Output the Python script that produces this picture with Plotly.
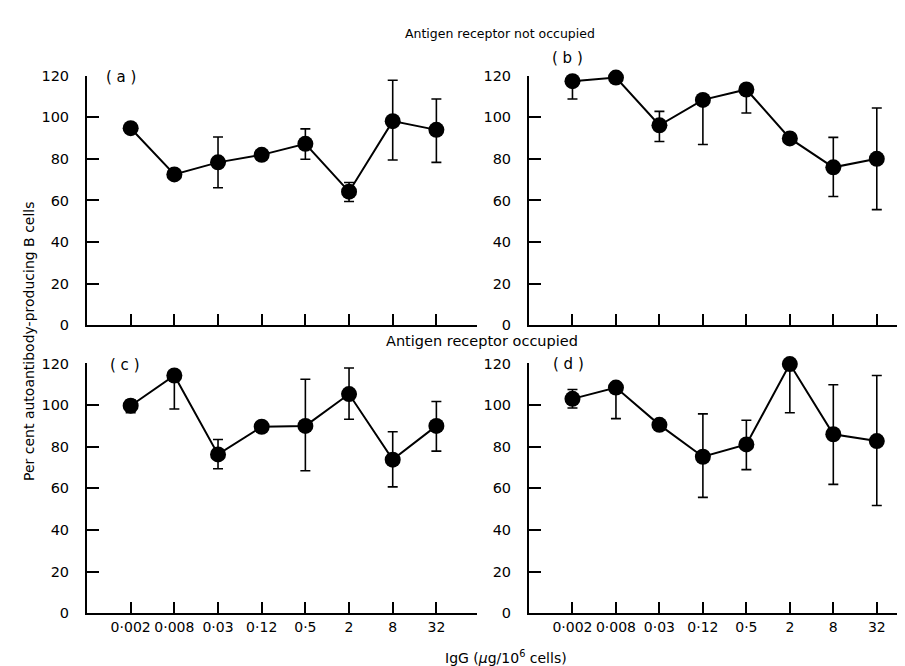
import plotly.graph_objects as go

# ---- data ----
dose_labels = ["0·002", "0·008", "0·03", "0·12", "0·5", "2", "8", "32"]

mean_a = [94.7, 72.5, 78.3, 81.9, 87.2, 64.2, 98.1, 93.9]
upper_a = [None, None, 90.5, None, 94.4, 68.6, 117.7, 108.7]
lower_a = [None, None, 66.1, None, 79.8, 59.5, 79.4, 78.3]

mean_b = [117.3, 119.0, 96.1, 108.3, 113.3, 89.8, 75.9, 80.0]
upper_b = [None, None, 102.8, None, None, None, 90.3, 104.4]
lower_b = [108.7, None, 88.3, 86.9, 102.0, None, 61.9, 55.6]

mean_c = [99.7, 114.2, 76.3, 89.6, 90.0, 105.3, 73.8, 90.0]
upper_c = [102.5, None, 83.5, None, 112.4, 117.8, 87.2, 101.7]
lower_c = [96.3, 98.1, 69.4, None, 68.5, 93.2, 60.7, 77.9]

mean_d = [103.0, 108.4, 90.5, 75.2, 81.1, 119.7, 86.0, 82.7]
upper_d = [107.5, None, None, 95.8, 92.7, None, 109.8, 114.2]
lower_d = [98.6, 93.5, None, 55.7, 69.0, 96.3, 61.9, 51.8]

y_ticks = [0, 20, 40, 60, 80, 100, 120]

# ---- figure ----
W, H = 905, 666
FONT = "DejaVu Sans"
x_pos = [i + 1 for i in range(len(dose_labels))]

fig = go.Figure()

panels = [
    ("x", "y", mean_a, upper_a, lower_a),
    ("x2", "y2", mean_b, upper_b, lower_b),
    ("x3", "y3", mean_c, upper_c, lower_c),
    ("x4", "y4", mean_d, upper_d, lower_d),
]

for xa, ya, m, up, lo in panels:
    plus = [(u - v) if u is not None else 0 for u, v in zip(up, m)]
    minus = [(v - l) if l is not None else 0 for l, v in zip(lo, m)]
    fig.add_trace(go.Scatter(
        x=x_pos, y=m, xaxis=xa, yaxis=ya, mode="lines+markers",
        line=dict(color="black", width=2),
        marker=dict(color="black", size=16),
        error_y=dict(type="data", symmetric=False, array=plus, arrayminus=minus,
                     color="black", thickness=1.6, width=5),
        cliponaxis=False, showlegend=False,
    ))

def px_x(p):
    return p / W

def px_y(p):
    return 1 - p / H

left_dom = [px_x(79), px_x(469)]
right_dom = [px_x(521), px_x(904)]
top_dom = [px_y(317), px_y(61)]
bot_dom = [px_y(612), px_y(356)]

xrange_left = [0, 8.93]
xrange_right = [0, 8.81]

def xaxis(dom, rng, end_tick):
    d = dict(domain=dom, range=rng, tickvals=x_pos, ticktext=dose_labels,
             ticks="inside", ticklen=11, tickwidth=1.6, tickcolor="black",
             showline=True, linewidth=2, linecolor="black",
             showgrid=False, zeroline=False,
             tickfont=dict(family=FONT, size=14, color="black"),
             ticklabelstandoff=0, fixedrange=True)
    if end_tick:
        d["minor"] = dict(tickmode="array", tickvals=[rng[1] - 0.01], ticks="inside",
                          ticklen=11, tickwidth=1.6, tickcolor="black", showgrid=False)
    return d

def yaxis(dom, anchor):
    return dict(domain=dom, range=[0, 120], tickvals=y_ticks,
                ticktext=[str(v) for v in y_ticks], anchor=anchor,
                ticks="inside", ticklen=12, tickwidth=1.6, tickcolor="black",
                showline=True, linewidth=2, linecolor="black",
                showgrid=False, zeroline=False,
                tickfont=dict(family=FONT, size=14.5, color="black"),
                ticklabelstandoff=13, fixedrange=True)

fig.update_layout(
    width=W, height=H,
    margin=dict(l=0, r=0, t=0, b=0),
    paper_bgcolor="white", plot_bgcolor="white",
    font=dict(family=FONT, color="black"),
    xaxis=dict(xaxis(left_dom, xrange_left, True), anchor="y", showticklabels=False),
    yaxis=yaxis(top_dom, "x"),
    xaxis2=dict(xaxis(right_dom, xrange_right, False), anchor="y2", showticklabels=False),
    yaxis2=yaxis(top_dom, "x2"),
    xaxis3=dict(xaxis(left_dom, xrange_left, True), anchor="y3"),
    yaxis3=yaxis(bot_dom, "x3"),
    xaxis4=dict(xaxis(right_dom, xrange_right, False), anchor="y4"),
    yaxis4=yaxis(bot_dom, "x4"),
)

def ann(text, x, y, size, angle=0):
    fig.add_annotation(text=text, x=px_x(x), y=px_y(y), xref="paper", yref="paper",
                       showarrow=False, xanchor="center", yanchor="middle",
                       textangle=angle, font=dict(family=FONT, size=size, color="black"))

ann("Antigen receptor not occupied", 492, 18, 12.5)
ann("Antigen receptor occupied", 474, 333, 14.5)
ann("( a )", 113, 62, 15)
ann("( b )", 559, 43, 15)
ann("( c )", 117, 358, 15)
ann("( d )", 560, 357, 15)
ann("IgG (<i>μ</i>g/10<sup>6</sup> cells)", 498, 657, 14)
ann("Per cent autoantibody-producing B cells", 21, 333, 14, angle=-90)

fig.write_html("out.html")
